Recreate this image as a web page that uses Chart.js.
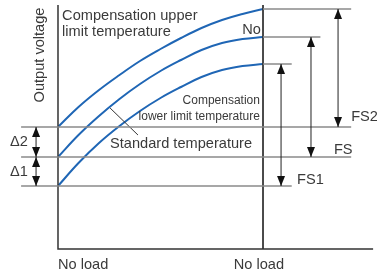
<!DOCTYPE html>
<html lang="en">
<head>
  <meta charset="UTF-8">
  <title>Output voltage vs load</title>
  <script src="https://cdn.jsdelivr.net/npm/chart.js"></script>
  <style>
    html, body { margin: 0; padding: 0; background: #fff; }
    #wrap { width: 377px; height: 274px; }
  </style>
</head>
<body>
<div id="wrap"><canvas id="chart"></canvas></div>
<script>
  // load in % (0 = no load, 100 = the right hand "No load" mark), voltage in arbitrary units
  const loads = [0, 10, 20, 30, 40, 50, 60, 70, 80, 90, 100];
  const upperTemp = [122, 142, 159, 174, 188, 200, 211, 221, 229, 235, 240];
  const standardTemp = [92, 114, 133, 150, 165, 178, 189, 199, 206, 210, 212];
  const lowerTemp = [63, 86, 106, 123, 138, 151, 162, 172, 179, 183, 185];

  const tickLoads = [0, 98];
  const tickLabels = ['No load', 'No load'];

  // reference levels: [y, xFrom, xTo]
  const levels = [
    [122, -18, 143], [92, -18, 143], [63, -18, 114],
    [240, 100, 143], [212, 100, 128], [185, 100, 114]
  ];
  // spans: [x, yFrom, yTo]
  const spans = [
    [136.6, 122, 240], [123.4, 92, 212], [108.8, 63, 185],
    [-10.7, 92, 122], [-10.7, 63, 92]
  ];

  const pts = ys => loads.map((x, i) => ({ x: x, y: ys[i] }));
  const seg = (a, b) => [{ x: a[0], y: a[1] }, { x: b[0], y: b[1] }];

  const blue = '#1f66b5';
  const curve = (ys) => ({
    data: pts(ys), borderColor: blue, borderWidth: 2, pointRadius: 0,
    showLine: true, tension: 0.4, clip: false
  });
  const plain = (data, color, w) => ({
    data: data, borderColor: color, borderWidth: w, pointRadius: 0, showLine: true, clip: false
  });

  const datasets = [];
  levels.forEach(l => datasets.push(plain(seg([l[1], l[0]], [l[2], l[0]]), '#8a8a8a', 1.5)));
  datasets.push(plain([{ x: 0, y: 244 }, { x: 0, y: 0 }, { x: 153.7, y: 0 }], '#333', 1.5));
  datasets.push(plain(seg([100, 244], [100, 0]), '#333', 1));
  datasets.push(plain(seg([25.4, 141], [39, 114]), '#333', 1));
  datasets.push(curve(upperTemp), curve(standardTemp), curve(lowerTemp));

  const texts = [
    { t: 'Output voltage', x: -8.8, y: 194, align: 'center', rot: true },
    { t: 'Compensation upper', x: 2, y: 233, align: 'left' },
    { t: 'limit temperature', x: 2, y: 217, align: 'left' },
    { t: 'No', x: 99, y: 219, align: 'right' },
    { t: 'Compensation', x: 98.5, y: 148, align: 'right', size: 12 },
    { t: 'lower limit temperature', x: 98.5, y: 132, align: 'right', size: 12 },
    { t: 'Standard temperature', x: 25.4, y: 105, align: 'left' },
    { t: 'FS2', x: 143, y: 132, align: 'left' },
    { t: 'FS', x: 134.6, y: 99, align: 'left' },
    { t: 'FS1', x: 116.6, y: 69, align: 'left' },
    { t: 'Δ2', x: -23.4, y: 107, align: 'left' },
    { t: 'Δ1', x: -23.4, y: 77, align: 'left' }
  ];

  const drawings = {
    id: 'drawings',
    afterDatasetsDraw(chart) {
      const ctx = chart.ctx, xs = chart.scales.x, ys = chart.scales.y;
      ctx.save();
      // double headed arrows
      ctx.strokeStyle = '#222'; ctx.fillStyle = '#111'; ctx.lineWidth = 1;
      spans.forEach(s => {
        const px = xs.getPixelForValue(s[0]);
        const y1 = ys.getPixelForValue(s[1]), y2 = ys.getPixelForValue(s[2]);
        ctx.beginPath(); ctx.moveTo(px, y1); ctx.lineTo(px, y2); ctx.stroke();
        [[y2, 1], [y1, -1]].forEach(h => {
          ctx.beginPath();
          ctx.moveTo(px, h[0]);
          ctx.lineTo(px - 4, h[0] + 10 * h[1]);
          ctx.lineTo(px + 4, h[0] + 10 * h[1]);
          ctx.closePath(); ctx.fill();
        });
      });
      // texts
      ctx.fillStyle = '#3a3a3a';
      ctx.textBaseline = 'middle';
      texts.forEach(o => {
        ctx.font = (o.size || 14.6) + 'px "Liberation Sans", Arial, sans-serif';
        ctx.textAlign = o.align;
        const px = xs.getPixelForValue(o.x), py = ys.getPixelForValue(o.y);
        if (o.rot) {
          ctx.save(); ctx.translate(px, py); ctx.rotate(-Math.PI / 2);
          ctx.fillText(o.t, 0, 0); ctx.restore();
        } else {
          ctx.fillText(o.t, px, py);
        }
      });
      ctx.font = '14.6px "Liberation Sans", Arial, sans-serif';
      tickLoads.forEach((v, i) => {
        ctx.textAlign = i === 0 ? 'left' : 'center';
        ctx.fillText(tickLabels[i], xs.getPixelForValue(v), ys.getPixelForValue(-16));
      });
      ctx.restore();
    }
  };

  new Chart(document.getElementById('chart'), {
    type: 'scatter',
    data: { datasets: datasets },
    options: {
      responsive: true,
      maintainAspectRatio: false,
      animation: false,
      layout: { padding: 0 },
      plugins: { legend: { display: false }, tooltip: { enabled: false } },
      scales: {
        x: { type: 'linear', display: false, min: -28.29, max: 155.6 },
        y: { type: 'linear', display: false, min: -25, max: 249 }
      }
    },
    plugins: [drawings]
  });
</script>
</body>
</html>
